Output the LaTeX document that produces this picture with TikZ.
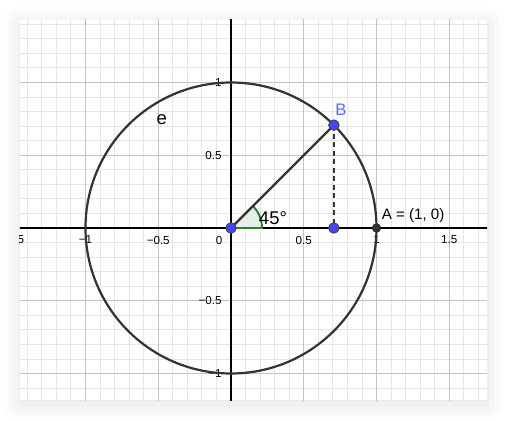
\documentclass[tikz,border=0pt]{standalone}
\usepackage{fontspec}
\setmainfont{Liberation Sans}
\usetikzlibrary{shadows.blur}
\definecolor{gridmajor}{HTML}{C4C4C4}
\definecolor{gridminor}{HTML}{E6E6E6}
\definecolor{ptblue}{HTML}{4545FF}
\definecolor{lblblue}{HTML}{6464FF}
\definecolor{anggreen}{HTML}{2E7D32}
\definecolor{curve}{HTML}{333333}

\begin{document}
\begin{tikzpicture}[
  x=2.91cm, y=2.91cm,
  card/.style={fill=white, blur shadow={shadow xshift=0pt, shadow yshift=-0.08cm,
               shadow blur radius=0.35cm, shadow opacity=12}},
  tick/.style={font=\fontsize{6.6}{7}\selectfont, inner sep=1pt},
  lbl/.style={font=\fontsize{8.6}{9}\selectfont, inner sep=1pt},
  pt/.style={circle, draw=black!75, line width=0.5pt, fill=ptblue, inner sep=0pt,
             minimum size=0.21cm},
  fixpt/.style={circle, draw=black!85, fill=curve, inner sep=0pt, minimum size=0.17cm},
  seg/.style={curve, line width=1.25pt}
]
  \useasboundingbox (-1.5876,-1.3196) rectangle (1.8969,1.5670);
  \fill[card] (-1.4502,-1.1821) rectangle (1.7595,1.4296);

  \begin{scope}
    \clip (-1.4502,-1.1821) rectangle (1.7595,1.4296);
    \draw[gridminor, line width=0.5pt, step=0.1] (-1.5,-1.2) grid (1.8,1.5);
    \draw[gridmajor, line width=0.6pt, step=0.5] (-1.5,-1.2) grid (1.8,1.5);
    \draw[black, line width=0.6pt] (-1.5,0) -- (1.8,0);
    \draw[black, line width=0.6pt] (0,-1.2) -- (0,1.5);
    \foreach \v/\t in {-1.5/−1.5, -1/−1, -0.5/−0.5, 0.5/0.5, 1/1, 1.5/1.5}
      \node[tick, anchor=north] (xt\v) at (\v,-0.04) {\t};
  \end{scope}

  \foreach \v/\t in {-1/−1, -0.5/−0.5, 0.5/0.5, 1/1}
    \node[tick, anchor=east] (yt\v) at (-0.05,\v) {\t};
  \node[tick, anchor=north east] (zero) at (-0.045,-0.04) {0};

  \coordinate (O) at (0,0);
  \coordinate (B) at (45:1);
  \coordinate (P) at (B |- O);
  \coordinate (A) at (1,0);

  \draw[seg] (O) circle[radius=1];
  \fill[anggreen!12] (O) -- (0.213,0) arc[start angle=0, end angle=45, radius=0.213] -- cycle;
  \draw[anggreen, line width=1.1pt] (O) -- (0.213,0) arc[start angle=0, end angle=45, radius=0.213] -- cycle;
  \draw[seg] (O) -- (B);
  \draw[seg, dash pattern=on 0.1cm off 0.07cm] (B) -- (P);

  \node[font=\fontsize{10.5}{12}\selectfont] (elbl) at (-0.476,0.742) {e};
  \node[font=\fontsize{10.5}{12}\selectfont, anchor=west, inner sep=0pt] (ang) at (0.19,0.065) {45°};

  \node[pt] (Opt) at (O) {};
  \node[pt] (Ppt) at (P) {};
  \node[pt] (Bpt) at (B) {};
  \node[fixpt] (Apt) at (A) {};

  \node[lbl, text=lblblue, font=\fontsize{9.5}{10}\selectfont] (Blbl) at (0.756,0.811) {B};
  \node[lbl, anchor=west] (Albl) at (1.022,0.088) {A = (1, 0)};
\end{tikzpicture}
\end{document}
